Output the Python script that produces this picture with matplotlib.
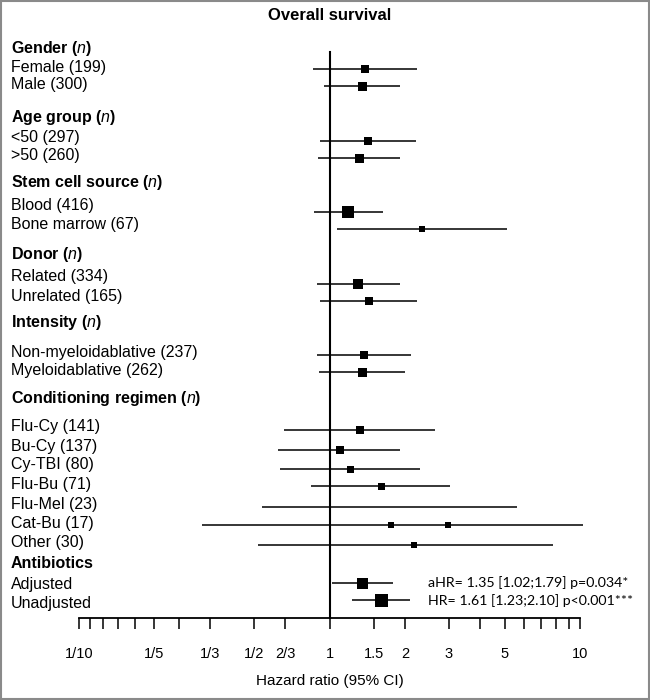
import matplotlib
matplotlib.use("Agg")
import matplotlib.pyplot as plt
import matplotlib.transforms as mtransforms
from matplotlib.patches import Rectangle
import numpy as np

plt.rcParams['font.family'] = ['Liberation Sans', 'DejaVu Sans']
plt.rcParams['mathtext.fontset'] = 'custom'
plt.rcParams['mathtext.rm'] = 'Liberation Sans'
plt.rcParams['mathtext.it'] = 'Liberation Sans:italic'

# group headers
groups = ['Gender', 'Age group', 'Stem cell source', 'Donor', 'Intensity',
          'Conditioning regimen', 'Antibiotics']
group_n = [True, True, True, True, True, True, False]

# subgroups, hazard ratio and 95% CI
labels = ['Female (199)', 'Male (300)', '<50 (297)', '>50 (260)',
          'Blood (416)', 'Bone marrow (67)', 'Related (334)', 'Unrelated (165)',
          'Non-myeloidablative (237)', 'Myeloidablative (262)',
          'Flu-Cy (141)', 'Bu-Cy (137)', 'Cy-TBI (80)', 'Flu-Bu (71)',
          'Flu-Mel (23)', 'Cat-Bu (17)', 'Other (30)',
          'Adjusted', 'Unadjusted']
hr = [1.38, 1.35, 1.43, 1.31, 1.19, 2.33, 1.30, 1.44, 1.37, 1.35,
      1.32, 1.10, 1.21, 1.60, np.nan, 1.76, 2.17, 1.35, 1.61]
lo = [0.86, 0.95, 0.92, 0.90, 0.87, 1.07, 0.89, 0.92, 0.89, 0.91,
      0.66, 0.625, 0.635, 0.84, 0.54, 0.31, 0.52, 1.02, 1.23]
hi = [2.23, 1.92, 2.21, 1.92, 1.64, 5.12, 1.91, 2.24, 2.12, 2.00,
      2.64, 1.92, 2.30, 3.04, 5.61, 10.25, 7.78, 1.79, 2.10]
# the original has a second square on the Cat-Bu row
extra_row = 'Cat-Bu (17)'
extra_hr = 2.98

annot = ['aHR= 1.35 [1.02;1.79] p=0.034*', 'HR= 1.61 [1.23;2.10] p<0.001***']

ticks = [1/10, 1/9, 1/8, 1/7, 1/6, 1/5, 1/4, 1/3, 1/2, 2/3, 1,
         1.5, 2, 3, 4, 5, 6, 7, 8, 9, 10]
tick_labels = ['1/10', '', '', '', '', '1/5', '', '1/3', '1/2', '2/3', '1',
               '1.5', '2', '3', '', '5', '', '', '', '', '10']

# layout (y in pixels from the top)
header_y = [48, 117.5, 182.5, 254, 323, 399, 563]
label_y = [67.7, 84, 137.7, 155.7, 205.5, 224, 276.7, 296.5, 352, 370,
           426.7, 446.7, 465, 485, 504.3, 523.3, 542.3, 585, 603.3]
bar_y = [69.3, 86, 140.7, 157.7, 212, 229.3, 284, 300.7, 355, 372.3,
         430, 450, 468.7, 485.7, 506.7, 524.7, 545.3, 583.3, 600]
box_px = [7.5, 9, 8, 9, 11.5, 6, 10, 8, 8.5, 9,
          7.5, 8, 7, 7, 0, 6.5, 6.5, 11, 13]

W, H = 650, 700
fig = plt.figure(figsize=(W / 100, H / 100), dpi=100)
ax_bottom = 618
ax_top = 40
ax = fig.add_axes([79 / W, (H - ax_bottom) / H, 501 / W, (ax_bottom - ax_top) / H])
ax.set_xscale('log')
ax.set_xlim(0.1, 10)
ax.set_ylim(ax_bottom, ax_top)

for s in ['top', 'left', 'right']:
    ax.spines[s].set_visible(False)
ax.spines['bottom'].set_linewidth(1.3)
ax.set_yticks([])
ax.xaxis.set_minor_locator(matplotlib.ticker.NullLocator())
ax.set_xticks(ticks)
ax.set_xticklabels(tick_labels, fontsize=10.5)
ax.tick_params(axis='x', direction='out', length=8, width=1.1, pad=13)

ax.plot([1, 1], [52, ax_bottom], color='black', lw=1.5, clip_on=False)

for i in range(len(labels)):
    y = bar_y[i]
    ax.plot([lo[i], hi[i]], [y, y], color='black', lw=1.1,
            solid_capstyle='butt', clip_on=False)
    if not np.isnan(hr[i]):
        ax.plot(hr[i], y, marker='s', ms=box_px[i] * 0.72, color='black',
                mew=0, clip_on=False, zorder=3)
    if labels[i] == extra_row:
        ax.plot(extra_hr, y, marker='s', ms=box_px[i] * 0.72, color='black',
                mew=0, clip_on=False, zorder=3)

trans = mtransforms.blended_transform_factory(fig.transFigure, ax.transData)
for g, has_n, y in zip(groups, group_n, header_y):
    txt = g + (r' ($\mathit{n}$)' if has_n else '')
    ax.text(11 / W, y, txt, transform=trans, fontsize=11.5, fontweight='bold',
            va='center', ha='left')
for lab, y in zip(labels, label_y):
    ax.text(11 / W, y, lab, transform=trans, fontsize=11.5, va='center', ha='left')

for txt, y in zip(annot, [582.7, 600.7]):
    ax.text(428 / W, y, txt, transform=trans, fontsize=10.2, family='Lato',
            va='center', ha='left')

fig.text(330 / W, 1 - 15 / H, 'Overall survival', fontsize=12, fontweight='bold',
         ha='center', va='center')
fig.text(330 / W, 1 - 681 / H, 'Hazard ratio (95% CI)', fontsize=11,
         ha='center', va='center')

fig.patches.append(Rectangle((0.001, 0.001), 0.997, 0.997, transform=fig.transFigure,
                             fill=False, edgecolor='#8a8a8a', lw=1.5))

fig.savefig('out.png', dpi=100)
